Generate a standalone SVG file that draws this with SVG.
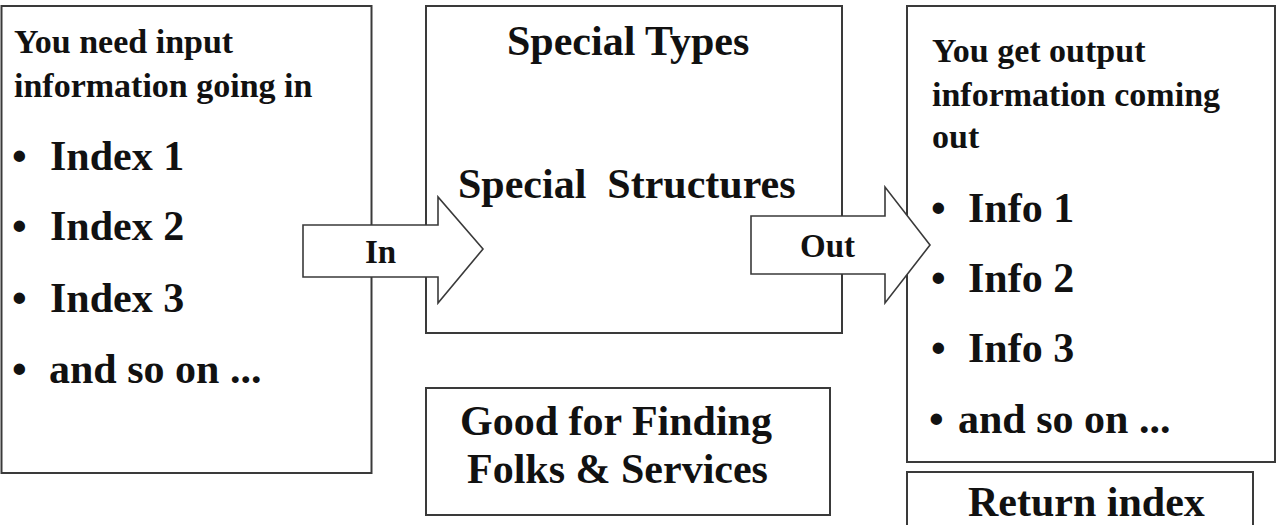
<svg xmlns="http://www.w3.org/2000/svg" width="1276" height="525" viewBox="0 0 1276 525">
  <style>
    .box { fill: #ffffff; stroke: #3a3a3a; stroke-width: 2; }
    .arrow { fill: #ffffff; stroke: #3a3a3a; stroke-width: 1.6; stroke-linejoin: miter; }
    text { font-family: "Liberation Serif", "Times New Roman", serif; font-weight: bold; fill: #111111; }
    .head { font-size: 34px; }
    .item { font-size: 42px; }
    .lbl { font-size: 33px; }
  </style>
  <rect width="1276" height="525" fill="#ffffff"/>

  <!-- input box -->
  <g id="node-input">
    <rect class="box" x="1.5" y="6" width="370" height="467"/>
    <text class="head" x="14" y="53">You need input</text>
    <text class="head" x="14" y="97">information going in</text>
    <text class="item" x="12" y="170">•</text>
    <text class="item" x="50" y="170">Index 1</text>
    <text class="item" x="12" y="240">•</text>
    <text class="item" x="50" y="240">Index 2</text>
    <text class="item" x="12" y="312">•</text>
    <text class="item" x="50" y="312">Index 3</text>
    <text class="item" x="12" y="383">•</text>
    <text class="item" x="49" y="383">and so on ...</text>
  </g>

  <!-- processing box -->
  <g id="node-special">
    <rect class="box" x="426" y="6" width="416" height="327"/>
    <text class="item" x="507" y="55">Special Types</text>
    <text class="item" x="458" y="198" xml:space="preserve">Special  Structures</text>
  </g>

  <!-- note box -->
  <g id="node-note">
    <rect class="box" x="426" y="388" width="404" height="127"/>
    <text class="item" x="460" y="435">Good for Finding</text>
    <text class="item" x="467" y="483">Folks &amp; Services</text>
  </g>

  <!-- output box -->
  <g id="node-output">
    <rect class="box" x="907" y="6" width="368" height="456"/>
    <text class="head" x="932" y="62">You get output</text>
    <text class="head" x="932" y="106">information coming</text>
    <text class="head" x="932" y="148">out</text>
    <text class="item" x="931" y="222">•</text>
    <text class="item" x="968" y="222">Info 1</text>
    <text class="item" x="931" y="292">•</text>
    <text class="item" x="968" y="292">Info 2</text>
    <text class="item" x="931" y="362">•</text>
    <text class="item" x="968" y="362">Info 3</text>
    <text class="item" x="929" y="433">•</text>
    <text class="item" x="958" y="433">and so on ...</text>
  </g>

  <!-- return box -->
  <g id="node-return">
    <rect class="box" x="907" y="472" width="346" height="60"/>
    <text class="item" x="968" y="516">Return index</text>
  </g>

  <!-- block arrows -->
  <g id="connectors">
    <g id="edge-in">
      <polygon class="arrow" points="303,225 438,225 438,197 483,249 438,303 438,277 303,277"/>
      <text class="lbl" x="365" y="263">In</text>
    </g>
    <g id="edge-out">
      <polygon class="arrow" points="751,216 885,216 885,187 930,245 885,303 885,274 751,274"/>
      <text class="lbl" x="800" y="257">Out</text>
    </g>
  </g>
</svg>
